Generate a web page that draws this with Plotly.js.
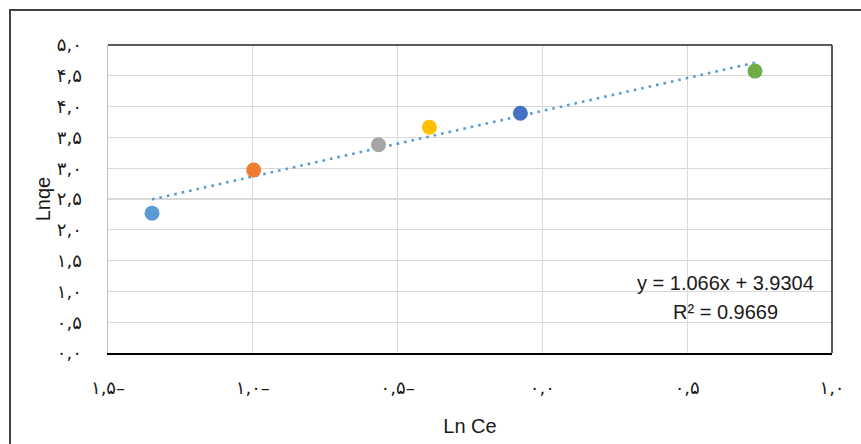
<!DOCTYPE html>
<html>
<head>
<meta charset="utf-8">
<script src="https://cdn.plot.ly/plotly-3.0.1.min.js"></script>
<style>
  html, body { margin: 0; padding: 0; background: #fff; }
  #frame { position: absolute; left: 9px; top: 9px; width: 900px; height: 500px;
           border-left: 2px solid #404040; border-top: 2px solid #404040; }
  #chart { position: absolute; left: 0; top: 0; width: 861px; height: 444px; }
</style>
</head>
<body>
<div id="frame"></div>
<div id="chart"></div>
<script>
const lnCe = [-1.348, -0.997, -0.566, -0.390, -0.076, 0.734];
const lnqe = [2.27, 2.97, 3.38, 3.665, 3.893, 4.576];
const pointColors = ["#5B9BD5", "#ED7D31", "#A5A5A5", "#FFC000", "#4472C4", "#70AD47"];
const trendSlope = 1.066;
const trendIntercept = 3.9304;
const xTickVals = [-1.5, -1.0, -0.5, 0, 0.5, 1.0];
const xTickText = ["۱,۵–", "۱,۰–", "۰,۵–", "۰,۰", "۰,۵", "۱,۰"];
const yTickVals = [0, 0.5, 1, 1.5, 2, 2.5, 3, 3.5, 4, 4.5, 5];
const yTickText = ["۰,۰", "۰,۵", "۱,۰", "۱,۵", "۲,۰", "۲,۵", "۳,۰", "۳,۵", "۴,۰", "۴,۵", "۵,۰"];
const eqText = "y = 1.066x + 3.9304";
const r2Text = "R² = 0.9669";

const xMin = Math.min(...lnCe), xMax = Math.max(...lnCe);
const trendX = [xMin, xMax];
const trendY = trendX.map(v => trendSlope * v + trendIntercept);

const tickFont = {family: "DejaVu Sans, sans-serif", size: 18, color: "#1a1a1a"};
const textFont = {family: "Liberation Sans, Arial, sans-serif", size: 20, color: "#1a1a1a"};

const data = [
  {x: trendX, y: trendY, mode: "lines", type: "scatter",
   line: {color: "#5B9BD5", width: 2.6, dash: "2.6px,5px"}, hoverinfo: "skip"},
  {x: lnCe, y: lnqe, mode: "markers", type: "scatter",
   marker: {color: pointColors, size: 15}}
];

const layout = {
  width: 861, height: 444,
  margin: {l: 108, r: 29, t: 45, b: 91},
  paper_bgcolor: "rgba(0,0,0,0)", plot_bgcolor: "#fff",
  showlegend: false,
  xaxis: {
    range: [-1.5, 1.0], tickvals: xTickVals, ticktext: xTickText,
    tickfont: tickFont, showgrid: true, gridcolor: "#D9D9D9", gridwidth: 1.3,
    zeroline: false, showline: true, linecolor: "#000", linewidth: 2,
    ticks: "", ticklabelstandoff: 17,
    title: {text: "Ln Ce", font: textFont, standoff: 22}
  },
  yaxis: {
    range: [0, 5], tickvals: yTickVals, ticktext: yTickText,
    tickfont: tickFont, showgrid: true, gridcolor: "#D9D9D9", gridwidth: 1.3,
    zeroline: false, showline: true, linecolor: "#BFBFBF", linewidth: 1.5,
    ticks: "", ticklabelstandoff: 21,
    title: {text: "Lnqe", font: textFont, standoff: 1}
  },
  shapes: [
    {type: "line", xref: "paper", yref: "paper", x0: 0, x1: 1, y0: 1, y1: 1,
     line: {color: "#262626", width: 1.5}},
    {type: "line", xref: "paper", yref: "paper", x0: 1, x1: 1, y0: 0, y1: 1,
     line: {color: "#262626", width: 1.5}}
  ],
  annotations: [
    {xref: "paper", yref: "paper", x: 0.853, y: 0.227, text: eqText, showarrow: false,
     font: textFont, xanchor: "center", yanchor: "middle"},
    {xref: "paper", yref: "paper", x: 0.853, y: 0.133, text: r2Text, showarrow: false,
     font: textFont, xanchor: "center", yanchor: "middle"}
  ]
};

Plotly.newPlot("chart", data, layout, {displayModeBar: false, staticPlot: true});
</script>
</body>
</html>
